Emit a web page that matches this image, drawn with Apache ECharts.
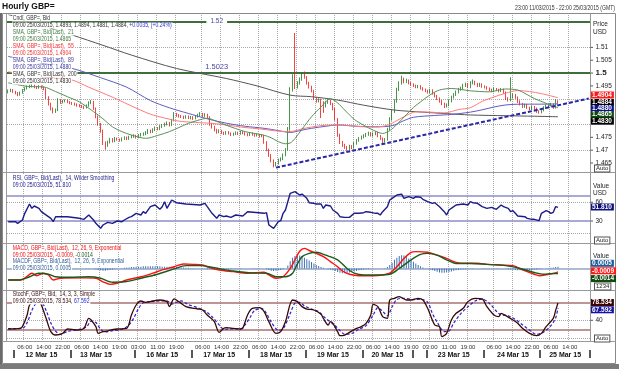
<!DOCTYPE html>
<html><head><meta charset="utf-8">
<script src="https://cdn.jsdelivr.net/npm/echarts@6/dist/echarts.min.js"></script>
<style>html,body{margin:0;padding:0;background:#fff}#c{width:619px;height:369px}</style>
</head><body><div id="c"></div>
<script>
// ---------------- DATA ----------------
const daySegments = [['11 Mar',23,23],['12 Mar',0,23],['13 Mar',0,20],['15 Mar',18,23],['16 Mar',0,23],['17 Mar',0,23],['18 Mar',0,23],['19 Mar',0,23],['20 Mar',0,20],['22 Mar',18,23],['23 Mar',0,23],['24 Mar',0,23],['25 Mar',0,22]];
const timeLabelIdx = [7,15,23,31,39,47,55,63,71,82,90,98,106,114,122,130,138,146,154,162,170,178,186,194,205,213,221,229,237];
const dateLabels = [[14,'12 Mar 15'],[37,'13 Mar 15'],[65,'16 Mar 15'],[89,'17 Mar 15'],[113,'18 Mar 15'],[137,'19 Mar 15'],[160,'20 Mar 15'],[188,'23 Mar 15'],[213,'24 Mar 15'],[235,'25 Mar 15']];
const daySeparators = [3,27,54,78,102,126,150,171,177,201,225];

const opens = [1.4926,1.4930,1.4934,1.4928,1.4922,1.4916,1.4924,1.4933,1.4940,1.4946,
1.4948,1.4951,1.4946,1.4943,1.4947,1.4944,1.4938,1.4905,1.4880,1.4862,
1.4850,1.4856,1.4895,1.4886,1.4891,1.4893,1.4887,1.4884,1.4880,1.4878,
1.4874,1.4872,1.4869,1.4866,1.4872,1.4884,1.4888,1.4862,1.4830,1.4802,
1.4776,1.4728,1.4719,1.4731,1.4742,1.4736,1.4746,1.4741,1.4738,1.4745,
1.4749,1.4744,1.4751,1.4753,1.4756,1.4750,1.4758,1.4761,1.4763,1.4768,
1.4776,1.4771,1.4779,1.4786,1.4782,1.4791,1.4796,1.4801,1.4806,1.4798,
1.4816,1.4841,1.4836,1.4832,1.4830,1.4827,1.4831,1.4826,1.4828,1.4824,
1.4831,1.4836,1.4841,1.4833,1.4838,1.4829,1.4801,1.4790,1.4779,1.4770,
1.4776,1.4768,1.4764,1.4770,1.4766,1.4760,1.4763,1.4768,1.4764,1.4770,
1.4767,1.4762,1.4759,1.4765,1.4761,1.4757,1.4760,1.4754,1.4757,1.4731,
1.4702,1.4681,1.4660,1.4643,1.4648,1.4661,1.4666,1.4681,1.4702,1.4782,
1.4935,1.4984,1.4946,1.4961,1.4976,1.4991,1.4984,1.4961,1.4946,1.4931,
1.4901,1.4891,1.4896,1.4886,1.4871,1.4886,1.4891,1.4880,1.4861,1.4821,
1.4760,1.4731,1.4720,1.4712,1.4705,1.4716,1.4710,1.4726,1.4738,1.4746,
1.4751,1.4756,1.4761,1.4766,1.4758,1.4763,1.4768,1.4755,1.4745,1.4735,
1.4741,1.4781,1.4821,1.4851,1.4891,1.4936,1.4961,1.4976,1.4966,1.4971,
1.4961,1.4956,1.4951,1.4946,1.4949,1.4941,1.4936,1.4931,1.4926,1.4933,
1.4921,1.4911,1.4901,1.4891,1.4881,1.4871,1.4876,1.4891,1.4906,1.4916,
1.4926,1.4936,1.4941,1.4951,1.4956,1.4946,1.4961,1.4966,1.4958,1.4951,
1.4956,1.4948,1.4945,1.4940,1.4935,1.4930,1.4938,1.4935,1.4930,1.4936,
1.4925,1.4901,1.4895,1.4906,1.4915,1.4905,1.4890,1.4880,1.4870,1.4876,
1.4865,1.4860,1.4868,1.4862,1.4850,1.4848,1.4856,1.4865,1.4872,1.4876,
1.4878,1.4866,1.4893];
const closes = [1.4930,1.4934,1.4928,1.4922,1.4916,1.4924,1.4933,1.4940,1.4946,1.4948,
1.4951,1.4946,1.4943,1.4947,1.4944,1.4938,1.4905,1.4880,1.4862,1.4850,
1.4856,1.4895,1.4886,1.4891,1.4893,1.4887,1.4884,1.4880,1.4878,1.4874,
1.4872,1.4869,1.4866,1.4872,1.4884,1.4888,1.4862,1.4830,1.4802,1.4776,
1.4728,1.4719,1.4731,1.4742,1.4736,1.4746,1.4741,1.4738,1.4745,1.4749,
1.4744,1.4751,1.4753,1.4756,1.4750,1.4758,1.4761,1.4763,1.4768,1.4776,
1.4771,1.4779,1.4786,1.4782,1.4791,1.4796,1.4801,1.4806,1.4798,1.4816,
1.4841,1.4836,1.4832,1.4830,1.4827,1.4831,1.4826,1.4828,1.4824,1.4831,
1.4836,1.4841,1.4833,1.4838,1.4829,1.4801,1.4790,1.4779,1.4770,1.4776,
1.4768,1.4764,1.4770,1.4766,1.4760,1.4763,1.4768,1.4764,1.4770,1.4767,
1.4762,1.4759,1.4765,1.4761,1.4757,1.4760,1.4754,1.4757,1.4731,1.4702,
1.4681,1.4660,1.4643,1.4648,1.4661,1.4666,1.4681,1.4702,1.4782,1.4935,
1.4984,1.4946,1.4961,1.4976,1.4991,1.4984,1.4961,1.4946,1.4931,1.4901,
1.4891,1.4896,1.4886,1.4871,1.4886,1.4891,1.4880,1.4861,1.4821,1.4760,
1.4731,1.4720,1.4712,1.4705,1.4716,1.4710,1.4726,1.4738,1.4746,1.4751,
1.4756,1.4761,1.4766,1.4758,1.4763,1.4768,1.4755,1.4745,1.4735,1.4741,
1.4781,1.4821,1.4851,1.4891,1.4936,1.4961,1.4976,1.4966,1.4971,1.4961,
1.4956,1.4951,1.4946,1.4949,1.4941,1.4936,1.4931,1.4926,1.4933,1.4921,
1.4911,1.4901,1.4891,1.4881,1.4871,1.4876,1.4891,1.4906,1.4916,1.4926,
1.4936,1.4941,1.4951,1.4956,1.4946,1.4961,1.4966,1.4958,1.4951,1.4956,
1.4948,1.4945,1.4940,1.4935,1.4930,1.4938,1.4935,1.4930,1.4936,1.4925,
1.4901,1.4895,1.4906,1.4915,1.4905,1.4890,1.4880,1.4870,1.4876,1.4865,
1.4860,1.4868,1.4862,1.4850,1.4848,1.4856,1.4865,1.4872,1.4876,1.4878,
1.4866,1.4893,1.4884];
const highs = [1.4936,1.4939,1.4938,1.4931,1.4926,1.4928,1.4938,1.4945,1.4952,1.4955,
1.4958,1.4955,1.4950,1.4953,1.4952,1.4948,1.4941,1.4910,1.4885,1.4866,
1.4862,1.4902,1.4899,1.4896,1.4898,1.4897,1.4891,1.4888,1.4885,1.4882,
1.4879,1.4876,1.4873,1.4878,1.4890,1.4895,1.4892,1.4866,1.4835,1.4806,
1.4780,1.4734,1.4737,1.4748,1.4747,1.4751,1.4749,1.4745,1.4750,1.4754,
1.4753,1.4756,1.4759,1.4762,1.4760,1.4763,1.4767,1.4769,1.4774,1.4782,
1.4780,1.4785,1.4792,1.4790,1.4797,1.4802,1.4807,1.4812,1.4810,1.4822,
1.4848,1.4845,1.4840,1.4837,1.4834,1.4836,1.4835,1.4833,1.4832,1.4837,
1.4842,1.4848,1.4845,1.4844,1.4842,1.4832,1.4806,1.4795,1.4783,1.4781,
1.4779,1.4772,1.4775,1.4774,1.4769,1.4768,1.4773,1.4772,1.4775,1.4774,
1.4770,1.4766,1.4770,1.4769,1.4765,1.4765,1.4763,1.4762,1.4760,1.4735,
1.4706,1.4685,1.4664,1.4654,1.4667,1.4672,1.4687,1.4708,1.4790,1.4945,
1.4995,1.5156,1.4968,1.4983,1.5003,1.5006,1.4988,1.4966,1.4951,1.4935,
1.4906,1.4902,1.4900,1.4890,1.4892,1.4897,1.4895,1.4884,1.4865,1.4825,
1.4764,1.4736,1.4725,1.4716,1.4721,1.4720,1.4731,1.4743,1.4751,1.4757,
1.4762,1.4767,1.4772,1.4770,1.4769,1.4774,1.4772,1.4759,1.4749,1.4747,
1.4787,1.4828,1.4858,1.4898,1.4943,1.4968,1.4990,1.4982,1.4978,1.4975,
1.4965,1.4960,1.4955,1.4954,1.4953,1.4945,1.4940,1.4935,1.4939,1.4937,
1.4925,1.4915,1.4905,1.4895,1.4885,1.4882,1.4897,1.4912,1.4922,1.4932,
1.4942,1.4947,1.4958,1.4963,1.4961,1.4968,1.4975,1.4970,1.4962,1.4962,
1.4960,1.4952,1.4949,1.4944,1.4939,1.4944,1.4942,1.4939,1.4942,1.4940,
1.4929,1.4906,1.4984,1.4921,1.4919,1.4909,1.4894,1.4884,1.4881,1.4880,
1.4869,1.4873,1.4872,1.4866,1.4855,1.4861,1.4871,1.4878,1.4882,1.4884,
1.4882,1.4899,1.4894];
const lows = [1.4921,1.4926,1.4923,1.4917,1.4910,1.4912,1.4920,1.4929,1.4936,1.4941,
1.4944,1.4941,1.4938,1.4939,1.4939,1.4933,1.4899,1.4874,1.4855,1.4843,
1.4845,1.4852,1.4880,1.4882,1.4886,1.4883,1.4879,1.4876,1.4873,1.4869,
1.4867,1.4864,1.4860,1.4862,1.4869,1.4879,1.4857,1.4824,1.4795,1.4768,
1.4720,1.4702,1.4713,1.4726,1.4730,1.4731,1.4737,1.4733,1.4734,1.4740,
1.4739,1.4740,1.4746,1.4748,1.4745,1.4746,1.4753,1.4756,1.4758,1.4763,
1.4766,1.4767,1.4774,1.4777,1.4778,1.4786,1.4791,1.4796,1.4792,1.4794,
1.4812,1.4830,1.4827,1.4825,1.4821,1.4822,1.4821,1.4820,1.4818,1.4820,
1.4827,1.4832,1.4828,1.4829,1.4824,1.4795,1.4784,1.4773,1.4764,1.4766,
1.4763,1.4759,1.4760,1.4761,1.4755,1.4756,1.4759,1.4759,1.4760,1.4762,
1.4757,1.4754,1.4755,1.4756,1.4752,1.4753,1.4749,1.4750,1.4725,1.4696,
1.4674,1.4653,1.4633,1.4637,1.4644,1.4656,1.4661,1.4676,1.4698,1.4776,
1.4928,1.4938,1.4940,1.4955,1.4970,1.4978,1.4955,1.4940,1.4925,1.4895,
1.4885,1.4886,1.4825,1.4845,1.4866,1.4880,1.4875,1.4855,1.4815,1.4752,
1.4724,1.4713,1.4705,1.4698,1.4700,1.4704,1.4706,1.4721,1.4733,1.4741,
1.4746,1.4751,1.4756,1.4753,1.4753,1.4758,1.4750,1.4740,1.4728,1.4730,
1.4737,1.4776,1.4815,1.4845,1.4885,1.4930,1.4955,1.4960,1.4961,1.4956,
1.4951,1.4946,1.4941,1.4941,1.4936,1.4931,1.4926,1.4920,1.4922,1.4916,
1.4905,1.4895,1.4885,1.4875,1.4864,1.4866,1.4871,1.4886,1.4901,1.4911,
1.4921,1.4931,1.4936,1.4946,1.4941,1.4941,1.4956,1.4953,1.4946,1.4946,
1.4943,1.4940,1.4935,1.4930,1.4925,1.4926,1.4930,1.4925,1.4926,1.4920,
1.4895,1.4889,1.4890,1.4901,1.4900,1.4884,1.4874,1.4864,1.4865,1.4860,
1.4855,1.4856,1.4857,1.4845,1.4842,1.4843,1.4851,1.4860,1.4867,1.4870,
1.4861,1.4862,1.4881];

const sma21 = [[0,1.4962],[4,1.4955],[8,1.4948],[15,1.4946],[20,1.4928],[25,1.4908],[30,1.4888],[36,1.4850],[40,1.4822],[44,1.4791],[48,1.4772],[52,1.4759],[58,1.4746],[63,1.4757],[68,1.4772],[72,1.4788],[76,1.4804],[80,1.4816],[84,1.4824],[88,1.4812],[92,1.4797],[96,1.4784],[100,1.4772],[104,1.4765],[108,1.4758],[111,1.4748],[114,1.4733],[117,1.4725],[119,1.4728],[121,1.4745],[124,1.4782],[128,1.4830],[132,1.4868],[136,1.4900],[139,1.4884],[142,1.4856],[146,1.4820],[150,1.4797],[154,1.4778],[158,1.4765],[161,1.4776],[164,1.4800],[168,1.4838],[171,1.4866],[174,1.4888],[178,1.4915],[182,1.4934],[187,1.4940],[195,1.4931],[203,1.4927],[210,1.4938],[215,1.4934],[219,1.4916],[222,1.4901],[226,1.4886],[229,1.4874],[232,1.4865]];
const sma55 = [[0,1.5005],[10,1.4990],[20,1.4980],[27,1.4973],[34,1.4945],[40,1.4922],[46,1.4898],[52,1.4872],[60,1.4840],[66,1.4825],[72,1.4813],[79,1.4808],[86,1.4804],[92,1.4798],[100,1.4788],[106,1.4783],[112,1.4776],[118,1.4772],[121,1.4775],[124,1.4783],[128,1.4790],[134,1.4797],[140,1.4798],[148,1.4792],[155,1.4790],[160,1.4797],[164,1.4815],[168,1.4835],[172,1.4849],[178,1.4848],[184,1.4845],[190,1.4858],[195,1.4865],[200,1.4890],[205,1.4907],[210,1.4922],[215,1.4932],[220,1.4928],[225,1.4920],[232,1.4904]];
const sma89 = [[0,1.5065],[13,1.5040],[27,1.5018],[39,1.4982],[50,1.4945],[60,1.4893],[68,1.4865],[76,1.4843],[84,1.4822],[92,1.4805],[100,1.4793],[108,1.4785],[114,1.4776],[119,1.4769],[124,1.4778],[128,1.4785],[134,1.4793],[139,1.4798],[147,1.4793],[155,1.4791],[162,1.4795],[167,1.4815],[171,1.4828],[180,1.4835],[187,1.4839],[195,1.4848],[200,1.4857],[205,1.4868],[210,1.4876],[216,1.4879],[224,1.4879],[232,1.4880]];
const sma200 = [[0,1.5228],[15,1.5183],[27,1.5148],[40,1.5108],[52,1.5070],[71,1.5018],[92,1.4979],[105,1.4950],[119,1.4914],[128,1.4908],[139,1.4895],[150,1.4875],[163,1.4856],[175,1.4848],[185,1.4842],[195,1.4837],[210,1.4834],[222,1.4832],[232,1.4830]];
const trendLine = [[113,1.4632],[245,1.4901]];
const hLevels = [1.52, 1.5023];

const rsi = [[0,28.9],[3,28.9],[4,26.3],[6,31.6],[7,42.3],[9,57.2],[10,50.3],[11,54],[13,50.3],[14,44.9],[15,42.3],[18,34.3],[19,28.9],[20,36.9],[25,36.9],[30,34.3],[32,32.7],[34,39.6],[36,31.6],[37,26.3],[39,18.3],[40,23.6],[42,27.9],[44,26.3],[46,30],[48,28.9],[49,31.6],[51,35.8],[52,36.9],[54,42.3],[56,39.6],[57,44.9],[58,42.3],[60,52.9],[62,55.6],[64,48.7],[65,52.9],[66,60.9],[67,50.3],[69,63.6],[71,59.3],[75,57.2],[81,55.6],[83,58.3],[84,52.9],[86,42.3],[88,34.3],[89,39.6],[91,36.9],[92,38],[94,35.8],[96,39.6],[99,38],[101,44.9],[108,42.3],[109,43.3],[110,23.6],[112,18.3],[114,28.9],[115,30.5],[116,42.3],[117,47.6],[119,74.3],[121,76.9],[123,71.6],[124,73.1],[126,66.3],[127,59.3],[129,58.3],[130,57.2],[132,57.2],[133,50.3],[134,55.6],[136,54],[137,47.6],[139,42.3],[140,36.9],[142,35.8],[144,35.8],[146,42.3],[148,42.3],[150,43.3],[151,44.9],[153,43.9],[155,42.3],[156,42.3],[157,39.6],[158,44.9],[160,52.9],[161,63.6],[162,66.3],[164,71.6],[166,73.1],[167,66.3],[169,68.9],[171,66.3],[172,68.9],[174,67.9],[175,64.7],[177,60.9],[179,58.3],[180,59.3],[182,52.9],[184,44.9],[185,39.6],[186,47.6],[188,52.9],[189,55.6],[192,57.2],[194,55.6],[195,60.9],[196,59.3],[198,58.3],[200,52.9],[202,50.3],[204,51.9],[206,48.7],[208,55.6],[209,52.9],[211,50.3],[212,44.9],[213,46.5],[214,42.3],[215,38],[218,36.9],[219,34.3],[221,32.7],[222,32.7],[224,30.5],[225,42.3],[227,46.5],[228,44.9],[229,42.3],[230,43.9],[231,53.0],[232,51.81]];

const macd = [[0,-0.0032],[5,-0.0032],[7,-0.0027],[10,-0.0013],[12,-0.0020],[15,-0.0013],[17,-0.0018],[19,-0.0032],[22,-0.0027],[32,-0.0026],[37,-0.0027],[40,-0.0037],[43,-0.0044],[46,-0.0041],[50,-0.0032],[56,-0.0023],[61,-0.0013],[65,-0.0004],[70,0.0005],[74,0.00125],[78,0.00116],[82,0.00097],[85,0.00023],[89,-0.00042],[95,-0.00088],[101,-0.00131],[108,-0.00106],[110,-0.0018],[113,-0.0027],[116,-0.0023],[119,0.0000],[121,0.0024],[123,0.0048],[125,0.0056],[127,0.0050],[130,0.0042],[133,0.0033],[136,0.0019],[139,0.0005],[141,-0.0007],[144,-0.0016],[148,-0.0020],[154,-0.0020],[158,-0.0018],[161,-0.0013],[164,0.0005],[167,0.0028],[170,0.0045],[172,0.0047],[177,0.0045],[181,0.0037],[185,0.0028],[189,0.0017],[193,0.00144],[198,0.00144],[202,0.00116],[208,0.00097],[213,0.0008],[217,-0.0004],[222,-0.0016],[224,-0.0020],[228,-0.0016],[231,-0.0012],[232,-0.0009]];
const macdSignal = [[0,-0.0032],[5,-0.0032],[9,-0.0023],[13,-0.0013],[17,-0.0016],[20,-0.0023],[26,-0.00245],[34,-0.0023],[39,-0.0027],[44,-0.0038],[49,-0.0037],[56,-0.0027],[63,-0.0016],[70,-0.0001],[75,0.0008],[81,0.0008],[87,0.0002],[95,-0.0007],[103,-0.00125],[109,-0.0013],[113,-0.0023],[117,-0.0023],[120,-0.0013],[122,0.0012],[124,0.0033],[127,0.0042],[130,0.0045],[134,0.0037],[139,0.0024],[143,0.0000],[146,-0.0013],[150,-0.0018],[156,-0.0018],[161,-0.0016],[165,0.0000],[170,0.0024],[174,0.0039],[177,0.0042],[181,0.0037],[185,0.0024],[189,0.0014],[195,0.0014],[202,0.00116],[210,0.0008],[216,0.0000],[222,-0.0011],[226,-0.0016],[230,-0.0014],[232,-0.0014]];
const macdHist = [0,0,0.0001,0.0001,0.0002,0.0002,0.0003,0.0004,0.0005,0.0005,
0.0005,0.0003,0.0002,0.0002,0.0002,0.0001,0,
-0.0002,-0.0004,-0.0005,-0.0004,-0.0003,-0.0002,-0.0002,-0.0001,
-0.0001,0,0,0.0001,0.0001,0,0,0,0.0001,0.0001,0,-0.0001,
-0.0002,-0.0004,-0.0005,-0.0006,-0.0006,-0.0005,-0.0004,-0.0003,-0.0002,-0.0001,
0,0.0001,0.0002,0.0003,0.0003,0.0004,0.0004,0.0005,0.0005,0.0005,0.0006,0.0006,0.0006,0.0006,
0.0006,0.0006,0.0006,0.0006,0.0005,0.0005,0.0005,0.0005,0.0005,0.0005,0.0004,0.0004,0.0003,0.0003,
0.0002,0.0002,0.0001,0.0001,0,0,0,-0.0001,-0.0001,-0.0002,
-0.0002,-0.0003,-0.0003,-0.0003,-0.0003,-0.0003,-0.0002,-0.0002,-0.0002,-0.0002,-0.0001,-0.0001,-0.0001,-0.0001,0,0,
0,0,0.0001,0.0001,0.0001,0.0001,0,0,
-0.0002,-0.0004,-0.0006,-0.0007,-0.0006,-0.0005,-0.0004,-0.0002,0,
0.0008,0.0020,0.0030,0.0035,0.0037,0.0036,0.0034,0.0030,0.0026,0.0022,0.0018,
0.0014,0.0010,0.0007,0.0004,0.0002,0,-0.0002,-0.0003,-0.0005,
-0.0007,-0.0010,-0.0012,-0.0013,-0.0013,-0.0012,-0.0011,-0.0010,-0.0008,-0.0007,-0.0005,-0.0004,-0.0003,
-0.0002,-0.0002,-0.0001,-0.0001,0,0,0,0,0.0001,
0.0004,0.0010,0.0016,0.0024,0.0030,0.0035,0.0037,0.0036,0.0033,0.0028,0.0024,
0.0019,0.0014,0.0010,0.0006,0.0003,0.0001,-0.0001,-0.0003,
-0.0005,-0.0007,-0.0009,-0.0011,-0.0012,-0.0012,-0.0011,-0.0010,-0.0008,-0.0006,-0.0005,-0.0004,
-0.0003,-0.0002,-0.0002,-0.0001,-0.0001,-0.0001,0,0,0,-0.0001,-0.0001,-0.0001,-0.0001,-0.0001,-0.0001,
-0.0001,-0.0001,0,0,-0.0001,-0.0002,-0.0003,-0.0003,-0.0004,-0.0005,
-0.0005,-0.0005,-0.0005,-0.0004,-0.0004,-0.0004,-0.0003,-0.0003,-0.0002,-0.0001,
0,0.0001,0.0001,0.0002,0.0003,0.0004,0.0005];

const stochK = [[0,20.7],[5,22.2],[6,25.9],[8,51.8],[9,74],[11,81.5],[13,81.5],[14,74],[16,44.4],[18,14.8],[20,7.3],[23,11],[25,20.7],[29,18.4],[32,22.2],[34,44.4],[35,40.7],[37,25.9],[38,11],[40,14.8],[42,16.3],[43,18.4],[46,20.7],[50,22.2],[52,51.8],[54,74],[56,82.9],[58,79.9],[61,82.9],[64,85.1],[67,81.5],[68,70.4],[70,87.4],[72,81.5],[75,70.4],[80,65.1],[82,62.9],[84,51.8],[87,37],[89,13.3],[91,22.2],[92,23.7],[95,22.2],[98,20.7],[99,22.2],[101,51.8],[103,66.6],[106,68.1],[108,59.2],[110,37],[113,11],[115,14.8],[117,37],[120,85.1],[122,81.5],[124,70.4],[126,65.1],[129,62.9],[132,53.3],[133,44.4],[135,29.6],[136,37],[137,33.3],[139,14.8],[140,5.8],[142,7.3],[144,13.3],[147,22.2],[149,25.9],[151,33.3],[153,51.8],[154,75.5],[156,70.4],[158,48.1],[160,44.4],[161,85.1],[163,88.9],[165,92.6],[168,85.1],[170,85.1],[173,88.9],[175,85.1],[177,66.6],[180,29.6],[182,25.9],[183,3.8],[185,11],[187,40.7],[189,55.5],[192,66.6],[194,81.5],[197,88.9],[200,87.4],[202,70.4],[205,51.8],[207,48.1],[208,55.5],[210,50.4],[213,40.7],[215,33.3],[217,22.2],[220,11],[223,5.8],[225,11],[227,25.9],[230,44.4],[231,62],[232,78.534]];
const stochD = [[0,21.5],[6,22],[8,35],[10,62],[12,78],[14,79],[16,62],[18,34],[20,16],[22,9],[25,15],[29,19],[33,25],[35,38],[37,35],[39,20],[41,14],[44,17],[48,20],[51,30],[53,45],[55,66],[57,79],[60,81],[64,83],[67,83],[69,76],[71,80],[73,83],[76,75],[80,68],[83,61],[86,48],[89,30],[91,20],[94,21],[98,21],[100,30],[102,46],[104,62],[107,66],[109,55],[111,36],[114,18],[116,21],[119,55],[121,78],[123,80],[125,72],[128,65],[131,59],[134,44],[136,36],[138,28],[140,17],[142,9],[145,11],[148,20],[151,28],[154,52],[156,68],[158,60],[160,50],[162,70],[164,86],[167,89],[171,86],[174,87],[177,80],[179,55],[181,36],[184,15],[186,16],[188,34],[191,55],[194,70],[197,83],[200,87],[203,78],[206,60],[208,52],[211,50],[214,42],[217,30],[220,18],[223,9],[226,14],[229,28],[231,45],[232,67.592]];

// axis ticks and labels
const priceTicks = [1.465,1.47,1.475,1.48,1.485,1.49,1.495,1.5,1.505,1.51,1.515];
const priceTickLabels = [[1.465,'1.465'],[1.47,'1.47'],[1.475,'1.475'],[1.495,'1.495'],[1.5,'1.5'],[1.505,'1.505'],[1.51,'1.51']];
const rsiTickLabels = [[60,'60'],[30,'30']];
const stochTickLabels = [[40,'40']];

// ---------------- BUILD ----------------
const categories = [];
daySegments.forEach(s => { for (let h = s[1]; h <= s[2]; h++) categories.push((h < 10 ? '0' : '') + h + ':00'); });
const timeSet = new Set(timeLabelIdx);
const dateMap = {}; dateLabels.forEach(d => dateMap[d[0]] = d[1]);
const sepSet = new Set(daySeparators);
const ohlc = closes.map((c, i) => [opens[i], c, lows[i], highs[i]]);
const last = a => a[a.length - 1][1];

const SANS = '"Liberation Sans", Arial, sans-serif';
const GRID_COLOR = '#a9a9a9';
const SQ = 0.8; // horizontal squeeze for the narrow legend font

const xBase = gi => ({
  type: 'category', gridIndex: gi, data: categories, boundaryGap: true,
  axisLine: {show: false}, axisTick: {show: false}, axisLabel: {show: false},
  splitLine: {show: true, interval: i => timeSet.has(i), lineStyle: {color: GRID_COLOR, type: 'dotted', width: 1}}
});
const xAxes = [xBase(0), xBase(1), xBase(2), xBase(3)];
xAxes[3].axisLabel = {show: true, interval: i => timeSet.has(i), formatter: v => v, fontSize: 6, color: '#333', margin: 3, fontFamily: SANS};
xAxes.push({
  type: 'category', gridIndex: 3, data: categories, boundaryGap: true, position: 'bottom', offset: 9,
  axisLine: {show: false}, splitLine: {show: false},
  axisTick: {show: true, interval: i => sepSet.has(i), length: 8, lineStyle: {color: '#222', width: 1.5}},
  axisLabel: {show: true, interval: i => dateMap[i] !== undefined, formatter: (v, i) => dateMap[i] || '', fontSize: 7, fontWeight: 'bold', color: '#111', margin: 2, fontFamily: SANS}
});

const dotted = {type: 'dotted', color: GRID_COLOR, width: 1};
const mlBase = {symbol: 'none', silent: true, animation: false, z: 1, label: {show: false}};

const lineS = (name, data, color, xi, w, extra) => Object.assign({
  name, type: 'line', xAxisIndex: xi, yAxisIndex: xi, data, showSymbol: false, symbol: 'none',
  lineStyle: {color, width: w || 1}, smooth: 0.3, animation: false, z: 3
}, extra || {});

const option = {
  animation: false,
  backgroundColor: '#ffffff',
  grid: [
    {left: 7, top: 15, width: 583, height: 157},
    {left: 7, top: 173, width: 583, height: 70},
    {left: 7, top: 244, width: 583, height: 46},
    {left: 7, top: 291, width: 583, height: 50}
  ],
  xAxis: xAxes,
  yAxis: [
    {type: 'value', gridIndex: 0, min: 1.4615, max: 1.5226, show: false},
    {type: 'value', gridIndex: 1, min: -5.2, max: 106.8, show: false},
    {type: 'value', gridIndex: 2, min: -0.005972, max: 0.006806, show: false},
    {type: 'value', gridIndex: 3, min: -6, max: 105.1, show: false}
  ],
  series: [
    {type: 'line', xAxisIndex: 0, yAxisIndex: 0, data: [], z: 1,
     markLine: Object.assign({}, mlBase, {data: priceTicks.map(v => ({yAxis: v, lineStyle: dotted}))})},
    {type: 'candlestick', xAxisIndex: 0, yAxisIndex: 0, data: ohlc, barWidth: 1.2, z: 2,
     itemStyle: {color: '#1a7a1a', color0: '#f01414', borderColor: '#1a7a1a', borderColor0: '#f01414', borderWidth: 0.8},
     markLine: Object.assign({}, mlBase, {z: 2, data: hLevels.map(v => ({yAxis: v, lineStyle: {type: 'solid', color: '#3e6e3e', width: 2}}))}),
     markPoint: {silent: true, animation: false, z: 6, symbol: 'rect', symbolSize: [1, 1], itemStyle: {color: 'rgba(0,0,0,0)'},
       data: [
         {coord: [88, hLevels[0]], label: {show: true, position: 'inside', formatter: '1.52', backgroundColor: '#fff', color: '#4646a0', fontSize: 6.5, fontFamily: SANS, padding: [0, 4]}},
         {coord: [88, hLevels[1]], label: {show: true, position: 'inside', formatter: hLevels[1].toFixed(4), backgroundColor: '#fff', color: '#4646a0', fontSize: 7.5, fontFamily: SANS, padding: [0, 4]}}
       ]}
    },
    lineS('SMA200', sma200, '#555555', 0, 1),
    lineS('SMA89', sma89, '#5c5cc4', 0, 1),
    lineS('SMA55', sma55, '#ff7a7a', 0, 1),
    lineS('SMA21', sma21, '#5a8f5a', 0, 1),
    lineS('Trend', trendLine, '#2828a8', 0, 2, {smooth: false, lineStyle: {color: '#2828a8', width: 2, type: [4, 2]}, z: 4}),

    lineS('RSI', rsi, '#1c1c8a', 1, 1.4, {smooth: false,
      markLine: Object.assign({}, mlBase, {data: [
        {yAxis: 70, lineStyle: {type: 'solid', color: '#8c8cc8', width: 1.5}},
        {yAxis: 30, lineStyle: {type: 'solid', color: '#8c8cc8', width: 1.5}},
        {yAxis: 60, lineStyle: dotted},
        {yAxis: 10, lineStyle: dotted}
      ]})}),

    {type: 'bar', xAxisIndex: 2, yAxisIndex: 2, data: macdHist, barWidth: 1, itemStyle: {color: '#3d70ad'}, z: 2,
     markLine: Object.assign({}, mlBase, {data: [
       {yAxis: 0, lineStyle: {type: 'solid', color: '#92a6c8', width: 1.5}},
       {yAxis: 0.005, lineStyle: dotted},
       {yAxis: -0.005, lineStyle: dotted}
     ]})},
    lineS('MACD', macd, '#ff1010', 2, 1.4),
    lineS('Signal', macdSignal, '#1c5a1c', 2, 1.4),

    lineS('%D', stochD, '#2424cc', 3, 1.2, {lineStyle: {color: '#2424cc', width: 1.2, type: [3, 2]},
      markLine: Object.assign({}, mlBase, {data: [
        {yAxis: 80, lineStyle: {type: 'solid', color: '#a87272', width: 1.5}},
        {yAxis: 20, lineStyle: {type: 'solid', color: '#a87272', width: 1.5}},
        {yAxis: 40, lineStyle: dotted},
        {yAxis: 0, lineStyle: dotted}
      ]})}),
    lineS('%K', stochK, '#3c0606', 3, 1.3)
  ]
};

const chart = echarts.init(document.getElementById('c'), null, {renderer: 'canvas'});
chart.setOption(option);

// ---------------- TEXT / FRAME GRAPHICS ----------------
const G = [];
const txt = (x, y, text, fill, font, extra, sx) => G.push({type: 'text', x, y, z: 100, silent: true, scaleX: sx || 1,
  style: Object.assign({text, fill, font, verticalAlign: 'middle', align: 'left'}, extra || {})});
const line = (x1, y1, x2, y2, stroke, w) => G.push({type: 'line', z: 90, silent: true, shape: {x1, y1, x2, y2}, style: {stroke, lineWidth: w || 1}});
const LF = '6.4px ' + SANS;
const RF = '6.5px ' + SANS;
const bg = {backgroundColor: '#fff', padding: [0, 1]};
const leg = (y, text, fill) => txt(12, y, text, fill, LF, bg, SQ);
const legRich = (y, a, b, ca, cb) => G.push({type: 'text', x: 12, y, z: 100, silent: true, scaleX: SQ, style: {
  text: '{a|' + a + '}{b|' + b + '}', verticalAlign: 'middle', backgroundColor: '#fff', padding: [0, 1],
  rich: {a: {fill: ca, font: LF}, b: {fill: cb, font: LF}}}});

// frame
G.push({type: 'rect', z: 89, silent: true, shape: {x: 2.5, y: 13.5, width: 613, height: 350}, style: {fill: 'none', stroke: '#8a8a8a', lineWidth: 1}});
G.push({type: 'rect', z: 89, silent: true, shape: {x: 0, y: 13, width: 2, height: 356}, style: {fill: '#6a6a6a'}});
G.push({type: 'rect', z: 89, silent: true, shape: {x: 0, y: 364, width: 619, height: 5}, style: {fill: '#7a7a7a'}});
line(6.5, 14, 6.5, 341, '#9a9a9a');
line(590.5, 14, 590.5, 341, '#9a9a9a');
[172.5, 243.5, 290.5, 341.5].forEach(y => line(2.5, y, 615.5, y, '#9a9a9a'));

// title
txt(2, 6.5, 'Hourly GBP=', '#111', 'bold 8.5px ' + SANS);
txt(615, 8.5, '23:00 11/03/2015 - 22:00 25/03/2015 (GMT)', '#333', '6.4px ' + SANS, {align: 'right'}, SQ);

// price legend
const n = closes.length - 1;
leg(18.5, 'Cndl, GBP=, Bid', '#333');
legRich(25.5, '09:00 25/03/2015, ' + opens[n].toFixed(4) + ', ' + highs[n].toFixed(4) + ', ' + lows[n].toFixed(4) + ', ' + closes[n].toFixed(4) + ', ', '+0.0035, (+0.24%)', '#333', '#3232c8');
leg(32.5, 'SMA, GBP=, Bid(Last),  21', '#3f7a3f');
leg(39.5, '09:00 25/03/2015, ' + last(sma21).toFixed(4), '#3f7a3f');
leg(46.5, 'SMA, GBP=, Bid(Last),  55', '#f03030');
leg(53.5, '09:00 25/03/2015, ' + last(sma55).toFixed(4), '#f03030');
leg(60.5, 'SMA, GBP=, Bid(Last),  89', '#3a3aa0');
leg(67.5, '09:00 25/03/2015, ' + last(sma89).toFixed(4), '#3a3aa0');
leg(74.5, 'SMA, GBP=, Bid(Last),  200', '#333');
leg(81.5, '09:00 25/03/2015, ' + last(sma200).toFixed(4), '#333');

// RSI legend
leg(178, 'RSI, GBP=, Bid(Last),  14, Wilder Smoothing', '#1c1c8a');
leg(185, '09:00 25/03/2015, ' + last(rsi).toFixed(3), '#1c1c8a');

// MACD legend
leg(248.5, 'MACD, GBP=, Bid(Last),  12, 26, 9, Exponential', '#f01010');
legRich(255.5, '09:00 25/03/2015, ' + last(macd).toFixed(4) + ', ', last(macdSignal).toFixed(4), '#f01010', '#1c5a1c');
leg(261.5, 'MACDF, GBP=, Bid(Last),  12, 26, 9, Exponential', '#2c5c98');
leg(268.5, '09:00 25/03/2015, ' + macdHist[n].toFixed(4), '#2c5c98');

// Stoch legend
leg(294.5, 'StochF, GBP=, Bid,  14, 3, 3, Simple', '#3c1010');
legRich(301.5, '09:00 25/03/2015, ' + last(stochK).toFixed(3) + ', ', last(stochD).toFixed(3), '#3c1010', '#2424cc');

// right axis labels placed through the axes
const yLabel = (axisIdx, pairs) => pairs.forEach(([v, t]) => {
  const y = chart.convertToPixel({yAxisIndex: axisIdx}, v);
  line(590.5, y, 593, y, '#555');
  txt(595.5, y, t, '#222', v === 1.5 && axisIdx === 0 ? 'bold 8px ' + SANS : RF);
});
yLabel(0, priceTickLabels);
yLabel(1, rsiTickLabels);
yLabel(3, stochTickLabels);

// right axis captions
txt(593, 24.5, 'Price', '#222', RF);
txt(593, 32, 'USD', '#222', RF);
txt(593, 186, 'Value', '#222', RF);
txt(593, 193.5, 'USD', '#222', RF);
txt(593, 256, 'Value', '#222', RF);
const autoBox = (y, t) => txt(595, y, t || 'Auto', '#222', '6px ' + SANS, {borderColor: '#555', borderWidth: 1, padding: [0, 1], backgroundColor: '#fff'});
autoBox(168.5); autoBox(240.5); autoBox(286.5, '1234'); autoBox(338.5);

// value boxes
const vbox = (y, t, color) => txt(591, y, t, '#fff', 'bold 6.5px ' + SANS, {backgroundColor: color, padding: [0, 2, 0, 1]});
vbox(95, last(sma55).toFixed(4), '#ff1a1a');
vbox(102.5, closes[n].toFixed(4), '#000');
vbox(108.3, last(sma89).toFixed(4), '#10108a');
vbox(114.6, last(sma21).toFixed(4), '#0f4a0f');
vbox(121.2, last(sma200).toFixed(4), '#000');
vbox(207, last(rsi).toFixed(3), '#10107a');
vbox(263.3, macdHist[n].toFixed(4), '#1f5c9c');
vbox(270.8, last(macd).toFixed(4), '#ff1a1a');
vbox(278.6, last(macdSignal).toFixed(4), '#0f4a0f');
vbox(302.5, last(stochK).toFixed(3), '#3a0505');
vbox(309.8, last(stochD).toFixed(3), '#1414a0');

chart.setOption({graphic: G});
</script></body></html>
